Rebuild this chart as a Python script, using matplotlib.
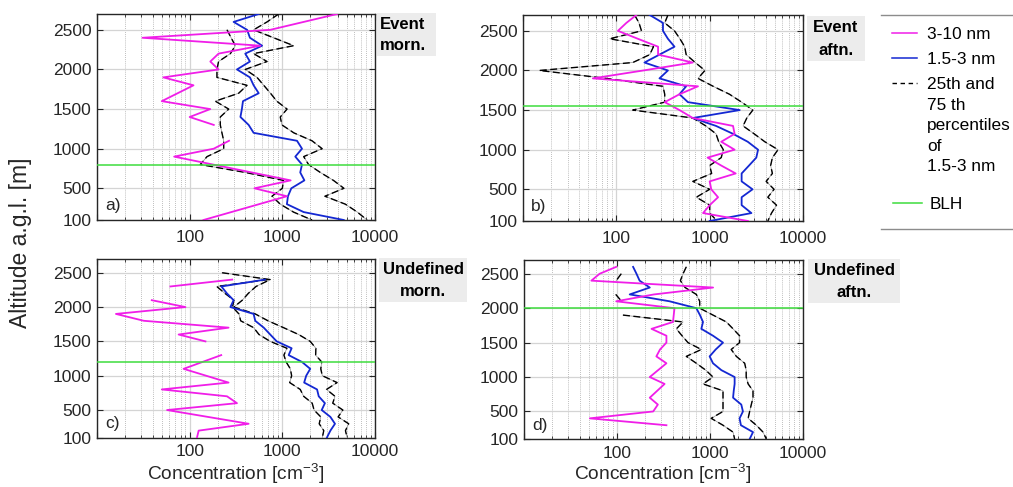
import numpy as np
import matplotlib
matplotlib.use('Agg')
import matplotlib.pyplot as plt
from matplotlib.lines import Line2D
from matplotlib.patches import Rectangle
from matplotlib.ticker import FixedLocator, LogLocator, NullFormatter, FixedFormatter

plt.rcParams['font.family'] = ['Liberation Sans', 'DejaVu Sans']
plt.rcParams['mathtext.fontset'] = 'custom'
plt.rcParams['mathtext.rm'] = 'Liberation Sans'
plt.rcParams['mathtext.it'] = 'Liberation Sans:italic'
plt.rcParams['mathtext.bf'] = 'Liberation Sans:bold'

nan = np.nan

# ---------------- data (altitude [m], concentration [cm-3]) ----------------
# a) Event morning
a_mag_alt = [2700, 2500, 2400, 2300, 2200, 2100, 2000, 1900, 1800, 1600, 1500, 1400, 1300, 1200, 1100, 1000, 900, 600, 500, 400, 100]
a_mag = [3900, 740, 31, 580, 205, 167, 205, 52, 110, 50, 167, 100, 182, nan, 266, 182, 68, 1230, 500, 1120, 141]
a_blue_alt = [2700, 2600, 2500, 2400, 2300, 2200, 2100, 2000, 1900, 1800, 1700, 1600, 1500, 1400, 1300, 1200, 1100, 1000, 900, 800, 700, 600, 500, 400, 300, 200, 100]
a_blue = [556, 298, 417, 447, 605, 398, 447, 324, 447, 490, 556, 376, 366, 353, 433, 490, 1440, 1630, 1380, 1630, 1560, 1730, 1250, 1150, 1120, 1700, 4600]
a_p25_alt = [2500, 2400, 2300, 2200, 2100, 2000, 1900, 1800, 1700, 1600, 1500, 1400, 1300, 1200, 1100, 1000, 900, 800, 700, 600, 500, 400, 300, 200, 100]
a_p25 = [253, 280, 311, 275, 205, 197, 197, 416, 338, 189, 264, 214, 214, 223, 233, 233, 154, 130, 400, 1030, 1000, 773, 950, 1320, 2090]
a_p75_alt = [2700, 2600, 2500, 2400, 2300, 2200, 2100, 2000, 1900, 1800, 1700, 1600, 1500, 1400, 1300, 1200, 1100, 1000, 900, 800, 700, 600, 500, 400, 300, 200, 100]
a_p75 = [913, 684, 490, 805, 1325, 490, 684, 398, 533, 630, 745, 870, 1125, 950, 990, 1330, 2090, 2690, 1700, 1920, 2570, 3560, 4620, 2880, 4780, 6450, 8200]
a_blh = 800

# b) Event afternoon
b_alt = [2700, 2600, 2500, 2400, 2300, 2200, 2100, 2000, 1900, 1800, 1700, 1600, 1500, 1400, 1300, 1200, 1100, 1000, 900, 800, 700, 600, 500, 400, 300, 200, 100]
b_mag = [164, 128, 104, 170, 280, 280, 660, 195, 56, 750, 475, 330, 475, 660, 1780, 1850, 1330, 1850, 950, 1330, 1900, 1000, 1040, 1230, 1000, 850, 2570]
b_blue = [228, 316, 316, 357, 420, 290, 200, 357, 290, 560, 475, 585, 2100, 660, 1170, 1780, 2560, 3300, 3160, 2640, 2200, 2200, 2880, 2200, 2200, 2800, 1000]
b_p25 = [157, 175, 186, 85, 250, 228, 150, 15, 78, 316, 330, 330, 150, 660, 910, 1170, 1250, 1400, 1330, 1000, 1050, 660, 1000, 720, 1000, 1000, 1200]
b_p75 = [357, 330, 420, 480, 540, 560, 700, 890, 750, 1090, 1630, 2200, 2900, 2500, 2280, 3000, 3900, 5400, 4700, 4500, 4700, 4030, 4900, 4200, 5200, 4600, 4200]
b_blh = 1550

# c) Undefined morning
c_mag_alt = [2400, 2300, 2200, 2100, 2000, 1900, 1800, 1700, 1600, 1500, 1400, 1300, 1100, 900, 800, 700, 600, 500, 300, 200, 100]
c_mag = [288, 62, nan, 39, 90, 16, 32, 263, 76, 148, nan, 219, 86, 263, 50, 253, 324, 57, 433, 125, 120]
c_alt = [2400, 2300, 2200, 2100, 2000, 1900, 1800, 1700, 1600, 1500, 1400, 1300, 1200, 1100, 1000, 900, 800, 700, 600, 500, 400, 300, 200, 100]
c_blue = [650, 220, 252, 298, 275, 490, 510, 630, 740, 870, 1260, 1170, 1630, 2000, 1810, 1720, 2370, 2470, 2880, 2660, 3300, 3700, 3300, 3030]
c_p25 = [700, 196, 240, 300, 290, 340, 355, 490, 560, 740, 1120, 1040, 1100, 1220, 1260, 1200, 1560, 1700, 2100, 2200, 2600, 2500, 2800, 2700]
c_p75_alt = [2500, 2400, 2300, 2200, 2100, 2000, 1900, 1800, 1700, 1600, 1500, 1400, 1300, 1200, 1100, 1000, 900, 800, 700, 600, 500, 400, 300, 200, 100]
c_p75 = [224, 740, 520, 430, 370, 300, 510, 700, 1030, 1500, 2000, 2300, 2290, 2660, 2600, 2700, 3900, 3000, 3700, 3500, 4500, 4000, 5200, 4800, 5000]
c_blh = 1200

# d) Undefined afternoon
d_mag_alt = [2600, 2500, 2400, 2300, 2200, 2100, 2000, 1800, 1700, 1600, 1500, 1400, 1300, 1200, 1000, 900, 700, 600, 500, 400, 300]
d_mag = [98, 65, 53, 1080, 250, 98, 415, 400, 235, 340, 340, 290, 265, 340, 225, 325, 225, 275, 245, 51, 340]
d_alt = [2600, 2500, 2400, 2300, 2200, 2100, 2000, 1900, 1800, 1700, 1600, 1500, 1400, 1300, 1200, 1100, 1000, 900, 800, 700, 600, 500, 400, 300, 200, 100]
d_blue = [149, 162, 175, 225, 137, 368, 713, 780, 841, 807, 1077, 1380, 1150, 991, 1077, 1325, 1840, 1840, 1800, 1770, 2170, 2260, 2080, 2150, 2900, 2670]
d_p25 = [nan, 111, 98, nan, 97, 112, nan, 116, 513, 435, 500, 580, 807, 556, 713, 900, 1077, 841, 1380, 1380, 1380, 1380, 1030, 1380, 1770, 1840]
d_p75 = [556, 513, 480, 540, 713, 775, 775, 1077, 1500, 1770, 2080, 2080, 1690, 1920, 2360, 2450, 2450, 2570, 2900, 2900, 2780, 2670, 2570, 3150, 3720, 4030]
d_blh = 2000

xtick_vals = [10, 100, 1000, 10000]
xtick_labels = ['', '100', '1000', '10000']
ytick_vals = [100, 500, 1000, 1500, 2000, 2500]
legend_labels = ['3-10 nm', '1.5-3 nm', '25th and', '75 th', 'percentiles', 'of', '1.5-3 nm', 'BLH']

# ---------------- styling ----------------
W, H = 1013, 487
fig = plt.figure(figsize=(W / 100, H / 100), dpi=100)

MAG = '#f01ee8'
BLUE = '#1428d2'
GREEN = '#3ddc3d'
DARK = '#262626'


def fx(x):
    return x / W


def fy(y):
    return 1 - y / H


def make_ax(l, t, r, b):
    return fig.add_axes([fx(l), fy(b), (r - l) / W, (b - t) / H])


def style(ax, xpad):
    ax.set_xscale('log')
    ax.set_xlim(10, 10000)
    ax.set_ylim(100, 2700)
    ax.xaxis.set_major_locator(FixedLocator(xtick_vals))
    ax.xaxis.set_major_formatter(FixedFormatter(xtick_labels))
    ax.xaxis.set_minor_locator(LogLocator(base=10, subs=np.arange(2, 10)))
    ax.xaxis.set_minor_formatter(NullFormatter())
    ax.yaxis.set_major_locator(FixedLocator(ytick_vals))
    ax.grid(True, which='major', color='#d4d4d4', lw=0.9, ls='-')
    ax.grid(True, which='minor', axis='x', color='#a8a8a8', lw=0.6, ls=(0, (1, 1.5)))
    ax.set_axisbelow(True)
    ax.tick_params(which='both', direction='in', top=True, right=True,
                   colors=DARK, labelsize=12.5)
    ax.tick_params(axis='x', which='major', pad=xpad)
    ax.tick_params(axis='y', which='major', pad=4)
    ax.tick_params(which='major', length=4, width=0.8)
    ax.tick_params(which='minor', length=2, width=0.6)
    for s in ax.spines.values():
        s.set_color(DARK)
        s.set_linewidth(1.0)


def draw(ax, mag_alt, mag, blue_alt, blue, p25_alt, p25, p75_alt, p75, blh, letter, xpad):
    style(ax, xpad)
    dash = (0, (5, 2.5))
    for vals, alts in ((p25, p25_alt), (p75, p75_alt)):
        ax.plot(vals, alts, color='#8a8a8a', lw=0.5, zorder=3)
        ax.plot(vals, alts, color='black', lw=1.0, ls=dash, zorder=3)
    ax.plot(blue, blue_alt, color=BLUE, lw=1.3, zorder=4)
    ax.plot(mag, mag_alt, color=MAG, lw=1.3, zorder=5)
    ax.axhline(blh, color=GREEN, lw=1.1, zorder=6)
    ax.text(0.03, 0.035, letter, transform=ax.transAxes, fontsize=12.5,
            color=DARK, ha='left', va='bottom')


ax_a = make_ax(97, 14, 375, 220)
ax_b = make_ax(523, 15, 803, 221)
ax_c = make_ax(97, 259, 375, 437.5)
ax_d = make_ax(524, 260, 803, 439)

draw(ax_a, a_mag_alt, a_mag, a_blue_alt, a_blue, a_p25_alt, a_p25, a_p75_alt, a_p75, a_blh, 'a)', 7)
draw(ax_b, b_alt, b_mag, b_alt, b_blue, b_alt, b_p25, b_alt, b_p75, b_blh, 'b)', 7)
draw(ax_c, c_mag_alt, c_mag, c_alt, c_blue, c_alt, c_p25, c_p75_alt, c_p75, c_blh, 'c)', 5)
draw(ax_d, d_mag_alt, d_mag, d_alt, d_blue, d_alt, d_p25, d_alt, d_p75, d_blh, 'd)', 5)


# title boxes
def box(x0, y0, x1, y1, lines, ha='center'):
    fig.patches.append(Rectangle((fx(x0), fy(y1)), (x1 - x0) / W, (y1 - y0) / H,
                                 transform=fig.transFigure, facecolor='#ececec',
                                 edgecolor='none', zorder=0))
    n = len(lines)
    for i, t in enumerate(lines):
        yc = y0 + (y1 - y0) * (i + 0.5) / n + 0.5
        xp = (x0 + x1) / 2 if ha == 'center' else x0 + 3
        fig.text(fx(xp), fy(yc), t, fontsize=12, fontweight='bold', color='black',
                 ha=ha, va='center')


box(377, 13, 436, 56, ['Event', 'morn.'], ha='left')
box(807, 16, 865, 61, ['Event', 'aftn.'])
box(379, 258, 467, 302, ['Undefined', 'morn.'])
box(808, 259, 900, 303, ['Undefined', 'aftn.'])

# axis labels
fig.text(fx(20), fy(243), 'Altitude a.g.l. [m]', rotation=90, ha='center', va='center',
         fontsize=16.5, color=DARK)
for xc in (236, 663):
    fig.text(fx(xc), fy(486), 'Concentration [cm$^{-3}$]', ha='center', va='bottom',
             fontsize=13.8, color=DARK)

# legend (drawn manually)
fig.add_artist(Line2D([fx(881), fx(1013)], [fy(15), fy(15)], color='#8c8c8c', lw=1.0))
fig.add_artist(Line2D([fx(881), fx(1013)], [fy(229), fy(229)], color='#8c8c8c', lw=1.0))
fig.add_artist(Line2D([fx(892), fx(917)], [fy(33), fy(33)], color=MAG, lw=1.1))
fig.add_artist(Line2D([fx(892), fx(917)], [fy(58), fy(58)], color=BLUE, lw=1.1))
fig.add_artist(Line2D([fx(892), fx(917)], [fy(83), fy(83)], color='black', lw=1.0, ls=(0, (3.2, 2.6))))
fig.add_artist(Line2D([fx(893), fx(922)], [fy(203), fy(203)], color=GREEN, lw=1.1))
leg_y = [33, 58, 83, 104, 124, 145, 165, 203]
for lab, yy in zip(legend_labels, leg_y):
    xx = 930 if lab == 'BLH' else 927
    fig.text(fx(xx), fy(yy + 6), lab, fontsize=12.4, color='black', ha='left', va='baseline')

fig.savefig('out.png', dpi=100)
